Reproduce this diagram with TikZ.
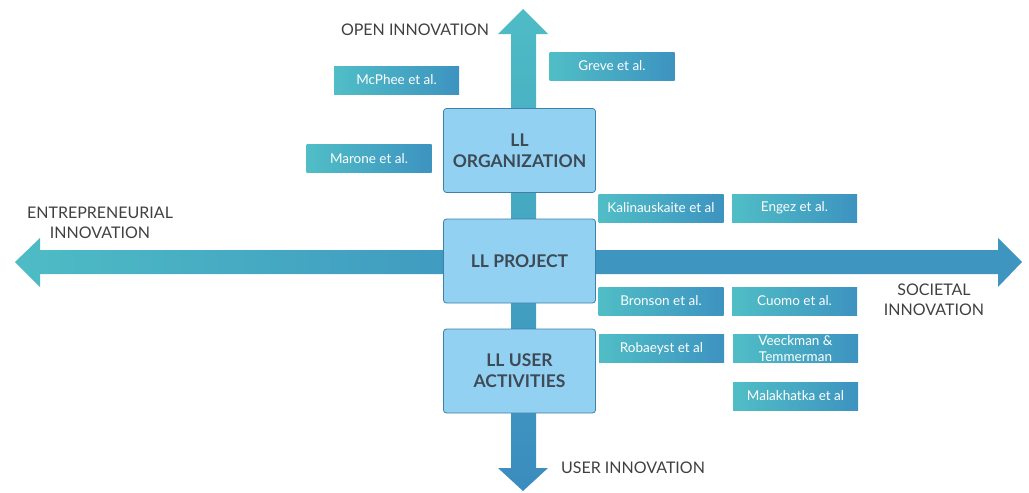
\documentclass[tikz,border=0pt]{standalone}
\usepackage{fontspec}
\setmainfont{Lato}
\begin{document}
\begin{tikzpicture}[x=1pt,y=-1pt,
  llbox/.style={draw=boxborder, line width=0.8pt, fill=boxfill, rounded corners=3pt,
    minimum width=152pt, minimum height=84pt, align=center, text=boxtext,
    font=\fontsize{17.5}{21}\selectfont\bfseries, inner sep=0pt},
  ref/.style={left color=refteal, right color=refblue, minimum width=125pt, minimum height=28pt,
    inner sep=0pt, text=white, font=\fontsize{13.5}{16}\selectfont, align=center},
  axislabel/.style={text=axistext, font=\fontsize{16}{20}\selectfont, align=center, inner sep=0pt}
]
\definecolor{refteal}{RGB}{80,190,198}
\definecolor{refblue}{RGB}{61,147,192}
\definecolor{arrteal}{RGB}{78,188,197}
\definecolor{arrblue}{RGB}{61,149,192}
\definecolor{arrdeep}{RGB}{58,140,190}
\definecolor{boxfill}{RGB}{146,209,242}
\definecolor{boxborder}{RGB}{62,128,168}
\definecolor{boxtext}{RGB}{62,74,86}
\definecolor{axistext}{RGB}{64,64,64}
\useasboundingbox (0,0) rectangle (1029,493);
% horizontal arrow
\shade[left color=arrteal, right color=arrblue]
  (15,262) -- (40,238) -- (40,250) -- (524,250) -- (524,274) -- (40,274) -- (40,287) -- cycle;
\fill[arrblue]
  (522,250) -- (998,250) -- (998,238) -- (1022,262) -- (998,287) -- (998,274) -- (522,274) -- cycle;
% vertical arrow
\shade[top color=arrteal, bottom color=arrdeep]
  (523,9) -- (548,34) -- (536,34) -- (536,468) -- (548,468) -- (523,491) -- (498,468) -- (511,468) -- (511,34) -- (498,34) -- cycle;
% main boxes
\node[llbox] (org) at (519.5,150.5) {LL\\ORGANIZATION};
\node[llbox] (proj) at (519.5,261) {LL PROJECT};
\node[llbox] (user) at (519.5,371) {LL USER\\ACTIVITIES};
% reference boxes
\node[ref] (mcphee) at (396.5,80) {McPhee et al.};
\node[ref] (marone) at (369,158.5) {Marone et al.};
\node[ref] (greve) at (612,66) {Greve et al.};
\node[ref] (kalin) at (661,208) {Kalinauskaite et al};
\node[ref] (engez) at (794.5,208) {Engez et al.};
\node[ref] (bronson) at (661,301) {Bronson et al.};
\node[ref] (cuomo) at (794.5,301) {Cuomo et al.};
\node[ref] (robaeyst) at (661.5,348.5) {Robaeyst et al};
\node[ref] (veeckman) at (795.5,348.5) {};
\node[text=white, font=\fontsize{13.5}{16}\selectfont, align=center, inner sep=0pt] (veecktext) at (veeckman.center) {Veeckman \&\\Temmerman};
\node[ref] (malak) at (795.5,396) {Malakhatka et al};
% axis labels
\node[axislabel] (open) at (415,30) {OPEN INNOVATION};
\node[axislabel] (entre) at (100,223) {ENTREPRENEURIAL\\INNOVATION};
\node[axislabel] (soc) at (934,300) {SOCIETAL\\INNOVATION};
\node[axislabel] (userinn) at (633,468) {USER INNOVATION};
\end{tikzpicture}
\end{document}
